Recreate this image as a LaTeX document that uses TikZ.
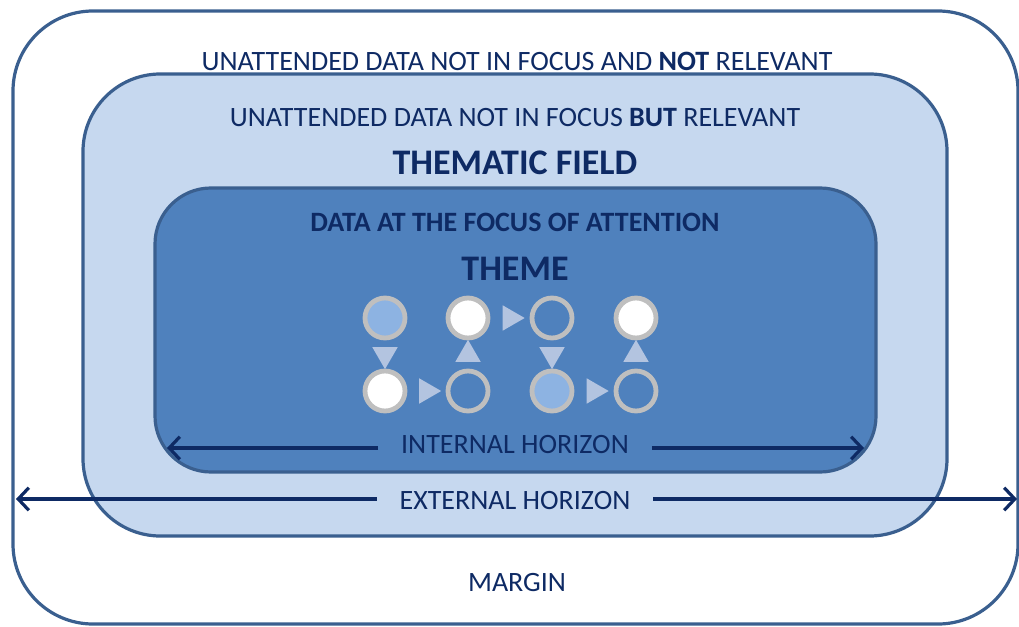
\documentclass[tikz,border=0pt]{standalone}
\usepackage{fontspec}
\setmainfont{Carlito}
\usetikzlibrary{calc,arrows.meta,shapes.geometric}

\definecolor{navy}{HTML}{0E2A64}
\definecolor{frame}{HTML}{3A5F8F}
\definecolor{paleblue}{HTML}{C6D8EF}
\definecolor{midblue}{HTML}{4F81BD}
\definecolor{dotblue}{HTML}{8DB3E2}
\definecolor{ring}{HTML}{BFBFBF}
\definecolor{tricol}{HTML}{B3C4E0}

\tikzset{
  lbl/.style={text=navy, font=\fontsize{21}{25}\selectfont, inner sep=0pt},
  blbl/.style={lbl, font=\fontsize{21}{25}\selectfont\bfseries},
  title/.style={lbl, font=\fontsize{27}{31}\selectfont\bfseries},
  dot/.style={circle, draw=ring, line width=3.6pt, minimum size=30pt, inner sep=0pt},
  tri/.style={regular polygon, regular polygon sides=3, fill=tricol, inner sep=0pt,
    minimum size=22pt},
  horizon/.style={navy, line width=2.4pt, -{Straight Barb[length=8pt,width=17pt,line width=2.4pt]}}
}

\begin{document}
\begin{tikzpicture}[x=0.75pt,y=-0.75pt]
\useasboundingbox (0,0) rectangle (1019,627);
\draw[frame, line width=2.4pt, rounded corners=60] (13,11) rectangle (1018,624);
\draw[frame, line width=2.4pt, fill=paleblue, rounded corners=58] (83,74) rectangle (947,536);
\draw[frame, line width=2.4pt, fill=midblue, rounded corners=42] (155,188) rectangle (876,472);

\node[lbl] (notrel) at (517,61) {UNATTENDED DATA NOT IN FOCUS AND \textbf{NOT} RELEVANT};
\node[lbl] (butrel) at (515,118) {UNATTENDED DATA NOT IN FOCUS \textbf{BUT} RELEVANT};
\node[title] (field) at (515,163) {THEMATIC FIELD};
\node[blbl] (focus) at (515,222) {DATA AT THE FOCUS OF ATTENTION};
\node[title] (theme) at (515,269) {THEME};

% the two rows of the theme
\node[dot, fill=dotblue] (a1) at (385,318) {};
\node[dot, fill=white]   (b1) at (468,318) {};
\node[dot]               (c1) at (552,318) {};
\node[dot, fill=white]   (d1) at (636,318) {};
\node[dot, fill=white]   (a2) at (385,391) {};
\node[dot]               (b2) at (468,391) {};
\node[dot, fill=dotblue] (c2) at (552,391) {};
\node[dot]               (d2) at (636,391) {};

\node[tri, regular polygon rotate=180] at ($(a1)!0.5!(a2)$) {};
\node[tri]                             at ($(b1)!0.5!(b2)$) {};
\node[tri, regular polygon rotate=180] at ($(c1)!0.5!(c2)$) {};
\node[tri]                             at ($(d1)!0.5!(d2)$) {};
\node[tri, regular polygon rotate=-90] at ($(b1)!0.5!(c1)$) {};
\node[tri, regular polygon rotate=-90] at ($(a2)!0.5!(b2)$) {};
\node[tri, regular polygon rotate=-90] at ($(c2)!0.5!(d2)$) {};

\node[lbl] (inner) at (515,445) {INTERNAL HORIZON};
\coordinate (inl) at (167,448);
\coordinate (inr) at (864,448);
\draw[horizon] ([xshift=-17pt]inner.west |- inl) -- (inl);
\draw[horizon] ([xshift=17pt]inner.east |- inr) -- (inr);

\node[lbl] (outer) at (515,501) {EXTERNAL HORIZON};
\coordinate (outl) at (16,499);
\coordinate (outr) at (1017,499);
\draw[horizon] ([xshift=-17pt]outer.west |- outl) -- (outl);
\draw[horizon] ([xshift=17pt]outer.east |- outr) -- (outr);

\node[lbl] (margin) at (517,583) {MARGIN};
\end{tikzpicture}
\end{document}
